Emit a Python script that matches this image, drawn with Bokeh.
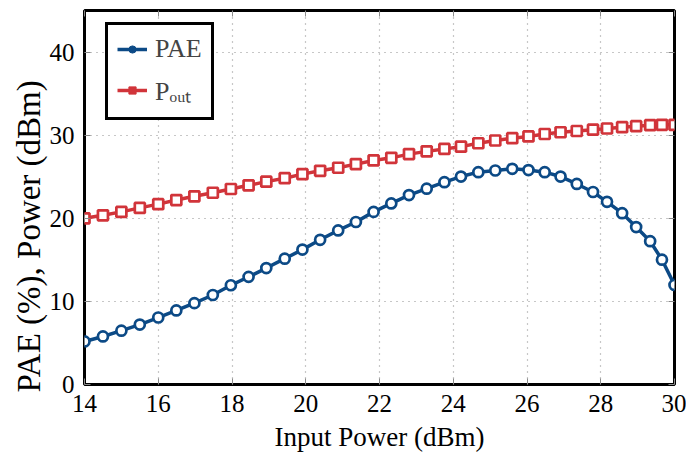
from bokeh.plotting import figure
from bokeh.models import Range1d, FixedTicker, LinearAxis, Legend, LegendItem, Title
from bokeh.embed import file_html
from bokeh.resources import INLINE

# Input power (dBm)
pin = [14.0, 14.5, 15.0, 15.5, 16.0, 16.49, 16.98, 17.48, 17.97, 18.45, 18.93, 19.43,
       19.91, 20.39, 20.88, 21.36, 21.84, 22.32, 22.80, 23.28, 23.76, 24.21, 24.68, 25.14,
       25.60, 26.04, 26.48, 26.91, 27.35, 27.79, 28.17, 28.58, 28.96, 29.34, 29.66, 30.0]
# PAE (%)
pae = [5.18, 5.78, 6.48, 7.21, 8.06, 8.91, 9.79, 10.77, 11.94, 12.95, 14.01, 15.14,
       16.23, 17.41, 18.54, 19.55, 20.77, 21.79, 22.79, 23.56, 24.34, 25.02, 25.55, 25.75,
       25.95, 25.80, 25.55, 25.02, 24.13, 23.16, 21.98, 20.61, 18.94, 17.24, 15.02, 11.98]
# Output power (dBm)
pout = [20.0, 20.36, 20.77, 21.25, 21.70, 22.19, 22.64, 23.07, 23.52, 23.97, 24.41, 24.82,
        25.31, 25.71, 26.08, 26.52, 26.96, 27.27, 27.72, 28.05, 28.34, 28.62, 29.03, 29.36,
        29.64, 29.85, 30.14, 30.35, 30.50, 30.66, 30.80, 30.96, 31.08, 31.20, 31.25, 31.25]

x_ticks = [14, 16, 18, 20, 22, 24, 26, 28, 30]
y_ticks = [0, 10, 20, 30, 40]
x_label = "Input Power (dBm)"
y_label = "PAE (%), Power (dBm)"
series_names = ["PAE", "P\u2092\u1d64\u209c"]

BLUE = "#0c4a86"
RED = "#d1343a"
FONT = "Liberation Serif"

p = figure(width=686, height=461, output_backend="svg", toolbar_location=None,
           x_range=Range1d(14, 30), y_range=Range1d(0, 45),
           min_border_left=84, min_border_right=12, min_border_top=10, min_border_bottom=77)

p.outline_line_color = "black"
p.outline_line_width = 3

for ax in (p.xaxis, p.yaxis):
    ax.axis_line_color = None
    ax.major_tick_in = 6
    ax.major_tick_out = 0
    ax.major_tick_line_color = "#8a8a8a"
    ax.major_tick_line_width = 1
    ax.minor_tick_line_color = None
    ax.major_label_text_font = FONT
    ax.major_label_text_font_size = "25px"
    ax.major_label_text_color = "black"
    ax.axis_label_text_font = FONT
    ax.axis_label_text_font_size = "27px"
    ax.axis_label_text_font_style = "normal"
    ax.axis_label_text_color = "black"

p.xaxis.ticker = FixedTicker(ticks=x_ticks)
p.yaxis.ticker = FixedTicker(ticks=y_ticks)
p.xaxis.axis_label = x_label
p.xaxis.major_label_standoff = 10
p.xaxis.axis_label_standoff = 7
p.yaxis.major_label_standoff = 10

# y-axis title, anchored at the bottom like the reference
p.add_layout(Title(text=y_label, align="left", offset=-8, standoff=0,
                   text_font=FONT, text_font_size="33px", text_font_style="normal",
                   text_color="black"), "left")

for loc, tk in (("above", x_ticks), ("right", y_ticks)):
    a = LinearAxis(ticker=FixedTicker(ticks=tk), axis_line_color=None,
                   major_tick_in=6, major_tick_out=0, major_tick_line_color="#8a8a8a",
                   minor_tick_line_color=None, major_label_text_font_size="0px",
                   major_label_text_color=None, major_label_standoff=0)
    p.add_layout(a, loc)

for g in (p.xgrid, p.ygrid):
    g.grid_line_color = "#8f8f8f"
    g.grid_line_dash = "1 5"
    g.grid_line_width = 1.2
p.xgrid.ticker = FixedTicker(ticks=x_ticks)
p.ygrid.ticker = FixedTicker(ticks=y_ticks)

l1 = p.line(pin, pae, line_color=BLUE, line_width=3.5)
# filled marks used for the legend swatch (zero size in the plot itself)
k1 = p.scatter(pin, pae, marker="circle", size=0, fill_color=BLUE, line_color=BLUE,
               line_width=1)
p.scatter(pin, pae, marker="circle", size=10, line_color=BLUE, line_width=2.7,
          fill_color="white")
l2 = p.line(pin, pout, line_color=RED, line_width=3.5)
k2 = p.scatter(pin, pout, marker="square", size=0, fill_color=RED, line_color=RED,
               line_width=1)
p.scatter(pin, pout, marker="square", size=10, line_color=RED, line_width=2.7,
          fill_color="white")

legend = Legend(items=[LegendItem(label=series_names[0], renderers=[l1, k1]),
                       LegendItem(label=series_names[1], renderers=[l2, k2])],
                location=(21, 264), margin=0, padding=9, spacing=8,
                glyph_width=30, glyph_height=18, label_height=30, label_standoff=8,
                border_line_color="black", border_line_width=3, border_line_alpha=1,
                background_fill_color="white", background_fill_alpha=1,
                label_text_font=FONT, label_text_font_size="26px")
p.add_layout(legend)

open("out.html", "w").write(file_html(p, INLINE))
